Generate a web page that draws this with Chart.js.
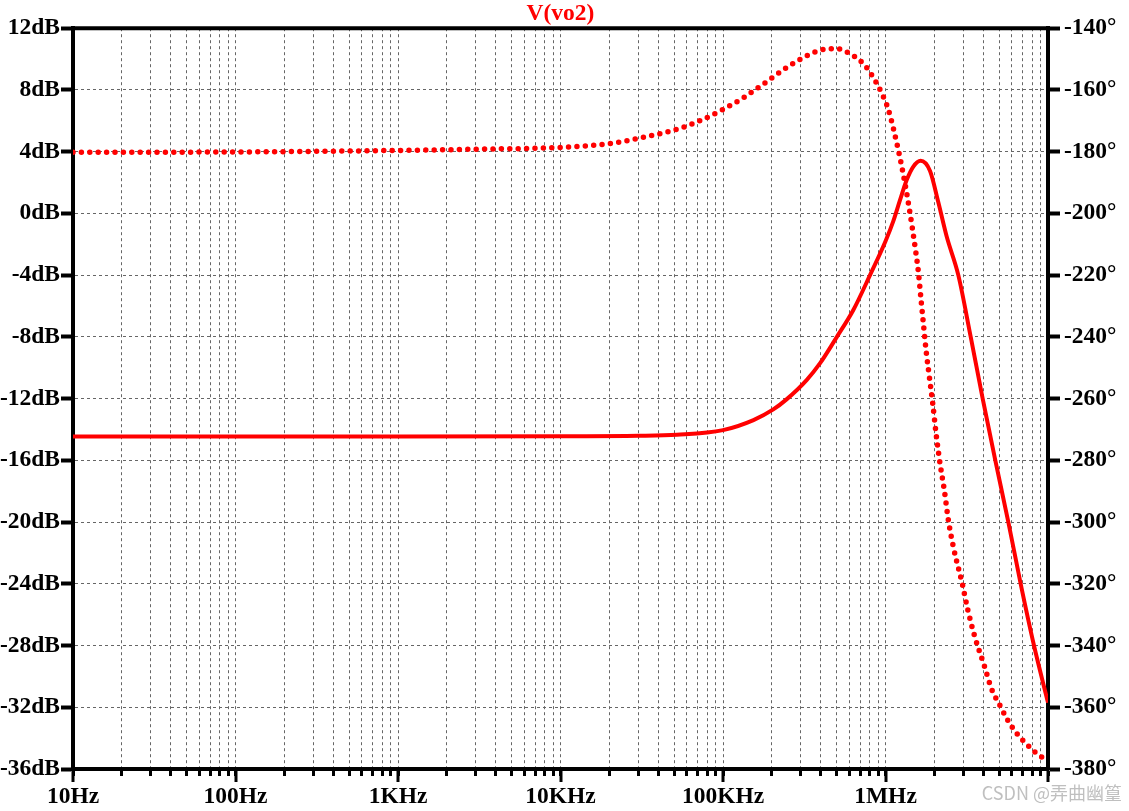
<!DOCTYPE html>
<html>
<head>
<meta charset="utf-8">
<script src="https://cdn.jsdelivr.net/npm/chart.js@4"></script>
<style>
  body { margin: 0; background: #fff; }
  canvas { display: block; }
</style>
</head>
<body>
<canvas id="bode" width="1129" height="811"></canvas>
<script>
// magnitude trace (solid, left axis)
const magFreq = [10, 1000, 10000, 30000, 52000, 100000, 154000, 204000, 246000, 327000, 395000,
  500000, 634000, 803000, 1000000, 1117000, 1228000, 1350000, 1480000, 1645000,
  1880000, 2110000, 2380000, 2806000, 3345000, 3963000, 4740000, 5700000, 6790000, 8200000, 10000000];
const magDb = [-14.45, -14.45, -14.44, -14.41, -14.34, -14.04, -13.39, -12.7, -12.05, -10.8, -9.72,
  -8.03, -6.26, -4.0, -1.8, -0.5, 0.86, 2.16, 3.02, 3.41,
  2.75, 0.75, -1.5, -4.0, -8.0, -12.0, -16.0, -20.0, -24.0, -28.0, -31.7];

// phase trace (dotted, right axis)
const phaseFreq = [10, 100, 1000, 3000, 10300, 20200, 31900, 50100, 70500, 97700, 131000,
  177000, 238000, 321000, 399000, 500000, 615000, 740000, 849000, 951000, 1040000,
  1200000, 1318000, 1416000, 1520000, 1593000, 1648000, 1710000, 1776000, 1861000, 1953000,
  2047000, 2165000, 2300000, 2437000, 2614000, 2980000, 3205000, 3560000, 4040000, 4505000,
  5015000, 5570000, 6360000, 7460000, 8240000, 9100000, 10000000];
const phaseDeg = [-180.2, -180.1, -179.6, -179.2, -178.6, -177.35, -175.4, -173.0, -170.2, -166.6, -162.8,
  -158.1, -153.3, -149.2, -147.1, -146.6, -148.5, -151.8, -156.3, -161.2, -166.3,
  -179.5, -190.3, -200.0, -210.8, -218.9, -227.0, -235.6, -244.3, -252.9, -261.6,
  -271.3, -281.0, -289.6, -299.4, -308.0, -320.4, -328.3, -337.5, -346.3, -354.2,
  -359.0, -363.6, -368.2, -372.2, -374.3, -376.0, -377.7];

// tick labels
const decades = [10, 100, 1000, 10000, 100000, 1000000, 10000000];
const xLabels = ['10Hz', '100Hz', '1KHz', '10KHz', '100KHz', '1MHz', ''];
const title = 'V(vo2)';

const xTicks = [];
for (let n = 1; n < 7; n++) {
  for (let k = 1; k < 10; k++) xTicks.push(Number(k + 'e' + n));
}
xTicks.push(1e7);

const labelFont = { family: '"Liberation Serif", "Times New Roman", serif', size: 23.5, weight: 'bold' };

const frame = {
  id: 'frame',
  beforeDatasetsDraw(chart) {
    const { ctx, chartArea: a } = chart;
    ctx.save();
    ctx.strokeStyle = '#000';
    ctx.lineWidth = 4;
    ctx.beginPath();
    ctx.moveTo(a.left - 2, a.top);
    ctx.lineTo(a.right + 2, a.top);
    ctx.stroke();
    // longer ticks on decades
    const xs = chart.scales.x;
    ctx.lineWidth = 3;
    decades.forEach(d => {
      const px = Math.round(xs.getPixelForValue(d));
      ctx.beginPath();
      ctx.moveTo(px, a.bottom);
      ctx.lineTo(px, a.bottom + 13);
      ctx.stroke();
    });
    ctx.restore();
  },
  afterDraw(chart) {
    const { ctx } = chart;
    ctx.save();
    ctx.fillStyle = 'rgba(170,170,170,0.75)';
    ctx.font = '18px "Noto Sans CJK SC", "Noto Sans", sans-serif';
    ctx.textAlign = 'right';
    ctx.textBaseline = 'middle';
    ctx.fillText('CSDN @弄曲幽篁', 1122, 793);
    ctx.restore();
  }
};

new Chart(document.getElementById('bode'), {
  type: 'line',
  data: {
    datasets: [{
      data: magFreq.map((f, i) => ({ x: f, y: magDb[i] })),
      yAxisID: 'y',
      borderColor: '#ff0000',
      borderWidth: 4,
      pointRadius: 0,
      cubicInterpolationMode: 'monotone'
    }, {
      data: phaseFreq.map((f, i) => ({ x: f, y: phaseDeg[i] })),
      yAxisID: 'y2',
      borderColor: '#ff0000',
      borderWidth: 5.5,
      borderDash: [0, 8.4],
      borderCapStyle: 'round',
      pointRadius: 0,
      cubicInterpolationMode: 'monotone'
    }]
  },
  options: {
    responsive: false,
    animation: false,
    layout: { padding: 0 },
    plugins: {
      legend: { display: false },
      tooltip: { enabled: false },
      title: {
        display: true,
        text: title,
        color: '#ff0000',
        font: labelFont,
        fullSize: false,
        padding: { top: 0, bottom: 0 }
      }
    },
    scales: {
      x: {
        type: 'logarithmic',
        min: 10,
        max: 1e7,
        afterBuildTicks: s => { s.ticks = xTicks.map(v => ({ value: v })); },
        afterFit: s => { s.height = 42; },
        ticks: {
          autoSkip: false,
          maxRotation: 0,
          padding: 7,
          color: '#000',
          font: labelFont,
          callback: v => {
            const i = decades.indexOf(v);
            return i >= 0 ? xLabels[i] : '';
          }
        },
        grid: {
          color: '#666',
          lineWidth: 1,
          tickLength: 7,
          tickWidth: 3,
          tickColor: '#000',
          tickBorderDash: []
        },
        border: { display: true, color: '#000', width: 4, dash: [3, 3] }
      },
      y: {
        position: 'left',
        min: -36,
        max: 12,
        afterFit: s => { s.width = 73; },
        ticks: {
          stepSize: 4,
          padding: 1,
          color: '#000',
          font: labelFont,
          callback: v => v + 'dB'
        },
        grid: {
          color: '#666',
          lineWidth: 1,
          tickLength: 12,
          tickWidth: 4,
          tickColor: '#000',
          tickBorderDash: []
        },
        border: { display: true, color: '#000', width: 4, dash: [3, 3] }
      },
      y2: {
        position: 'right',
        min: -380,
        max: -140,
        afterFit: s => { s.width = 81; },
        ticks: {
          stepSize: 20,
          padding: 4,
          color: '#000',
          font: labelFont,
          callback: v => v + '°'
        },
        grid: {
          drawOnChartArea: false,
          tickLength: 12,
          tickWidth: 4,
          tickColor: '#000'
        },
        border: { display: true, color: '#000', width: 4 }
      }
    }
  },
  plugins: [frame]
});
</script>
</body>
</html>
